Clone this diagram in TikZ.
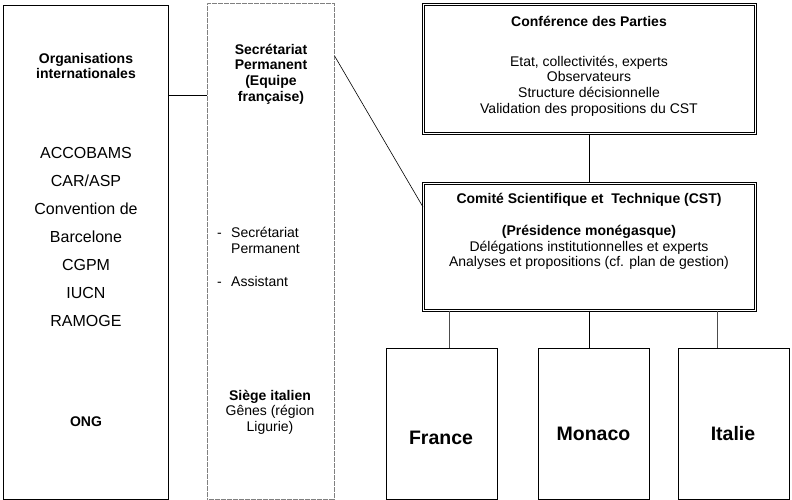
\documentclass[tikz,border=0pt]{standalone}
\usepackage{fontspec}
\setmainfont{Liberation Sans}
\usetikzlibrary{positioning}

\begin{document}
\begin{tikzpicture}[x=1pt, y=-1pt,
    box/.style={draw, line width=0.8pt, inner sep=0pt, anchor=north west},
    dblbox/.style={box, double, double distance=1.2pt, line width=0.7pt},
    dotbox/.style={box, draw=gray, line width=0.6pt, dash pattern=on 0.6pt off 0.6pt},
    head/.style={font=\fontsize{14}{14.5}\bfseries\selectfont, align=center, inner sep=0pt},
    txt/.style={font=\fontsize{14}{15.6}\selectfont, align=center, inner sep=0pt},
    big/.style={font=\fontsize{19.5}{22}\bfseries\selectfont, inner sep=0pt},
    link/.style={line width=0.6pt}]
  \useasboundingbox (0,0) rectangle (792,500);

  % boxes
  \node[box, minimum width=165pt, minimum height=494pt] (orgs) at (3,5) {};
  \node[dotbox, minimum width=127pt, minimum height=496pt] (secr) at (207,3) {};
  \node[dblbox, minimum width=332pt, minimum height=129pt] (cop) at (423,4) {};
  \node[dblbox, minimum width=332pt, minimum height=127pt] (cst) at (423,183) {};
  \node[box, minimum width=111pt, minimum height=151pt] (france) at (386,348) {};
  \node[box, minimum width=111pt, minimum height=151pt] (monaco) at (538,348) {};
  \node[box, minimum width=111pt, minimum height=151pt] (italie) at (678,348) {};

  % links
  \draw[link] (orgs.east |- 0,95) -- (secr.west |- 0,95);
  \draw[link] (secr.east |- 0,56) -- (cst.west |- 0,207);
  \draw[link] (cop.south) -- (cst.north);
  \draw[link, draw=black!70] (cst.south -| 449,0) -- (france.north -| 449,0);
  \draw[link] (cst.south) -- (monaco.north -| cst.south);
  \draw[link, draw=black!70] (cst.south -| 717,0) -- (italie.north -| 717,0);

  % texts
  \node[head] (orgs-title) at (86,66) {Organisations\\internationales};
  \node[txt, font=\fontsize{16}{28}\selectfont] (orgs-list) at (86,237)
    {ACCOBAMS\\CAR/ASP\\Convention de\\Barcelone\\CGPM\\IUCN\\RAMOGE};
  \node[head] (orgs-ong) at (86,422) {ONG};

  \node[head, font=\fontsize{14}{15.6}\bfseries\selectfont] (secr-title) at (271,74)
    {Secrétariat\\Permanent\\(Equipe\\française)};
  \node[txt, align=left, anchor=west] (secr-staff) at (217,257)
    {\makebox[14pt][l]{-}Secrétariat\\\hspace*{14pt}Permanent\\[17pt]\makebox[14pt][l]{-}Assistant};
  \node[txt] (secr-seat) at (270,412) {\textbf{Siège italien}\\Gênes (région\\Ligurie)};

  \node[head] (cop-title) at (589,21) {Conférence des Parties};
  \node[txt] (cop-text) at (589,86)
    {Etat, collectivités, experts\\Observateurs\\Structure décisionnelle\\Validation des propositions du CST};
  \node[head] (cst-title) at (589,200) {Comité Scientifique et\ \ Technique (CST)};
  \node[txt] (cst-text) at (589,247.5)
    {\textbf{(Présidence monégasque)}\\Délégations institutionnelles et experts\\Analyses et propositions (cf. plan de gestion)};

  \node[big] (france-name) at (441,438) {France};
  \node[big] (monaco-name) at (593.5,434) {Monaco};
  \node[big] (italie-name) at (733,434) {Italie};
\end{tikzpicture}
\end{document}
